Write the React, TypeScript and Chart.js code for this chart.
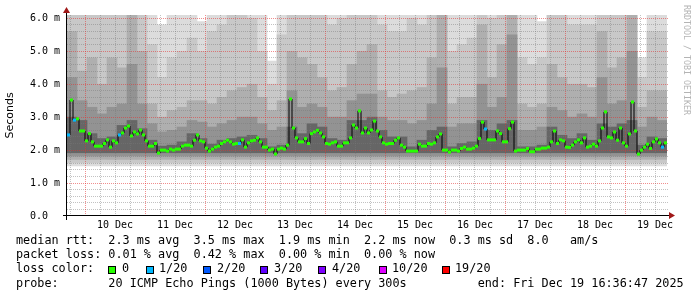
import React, { useEffect, useRef } from 'react';
import { Chart, registerables } from 'chart.js';

Chart.register(...registerables);

// ---------- data ----------
// x axis: hours since 10 Dec 00:00 (graph runs 9 Dec 16:48 -> 19 Dec 16:37)
const startHour = -7.2;
const endHour = 232.8;
const dayLabels = ['10 Dec', '11 Dec', '12 Dec', '13 Dec', '14 Dec', '15 Dec', '16 Dec', '17 Dec', '18 Dec', '19 Dec'];
const dayNoonHours = [12, 36, 60, 84, 108, 132, 156, 180, 204, 228];

const yTickValues = [0, 1, 2, 3, 4, 5, 6];
const yTickLabels = ['0.0', '1.0 m', '2.0 m', '3.0 m', '4.0 m', '5.0 m', '6.0 m'];

// median RTT (ms), 200 consolidated steps
const medianRtt = [
  2.46, 3.52, 2.91, 2.95, 2.58, 2.58, 2.28, 2.5, 2.25, 2.12,
  2.12, 2.12, 2.2, 2.31, 2.09, 2.28, 2.22, 2.46, 2.52, 2.67,
  2.73, 2.43, 2.55, 2.49, 2.61, 2.46, 2.28, 2.12, 2.12, 2.2,
  1.91, 2.0, 2.0, 1.97, 2.03, 2.0, 2.03, 2.03, 2.12, 2.15,
  2.15, 2.12, 2.3, 2.46, 2.28, 2.25, 2.06, 1.97, 2.03, 2.09,
  2.12, 2.2, 2.25, 2.3, 2.25, 2.18, 2.2, 2.2, 2.31, 2.09,
  2.22, 2.28, 2.3, 2.37, 2.25, 2.09, 2.09, 2.0, 2.03, 1.88,
  2.03, 2.06, 2.03, 2.15, 3.55, 2.67, 2.37, 2.25, 2.25, 2.35,
  2.2, 2.5, 2.55, 2.6, 2.52, 2.4, 2.2, 2.18, 2.22, 2.25,
  2.12, 2.12, 2.22, 2.22, 2.37, 2.76, 2.67, 3.19, 2.52, 2.67,
  2.52, 2.61, 2.88, 2.58, 2.4, 2.22, 2.18, 2.2, 2.2, 2.3,
  2.37, 2.15, 2.09, 1.97, 1.97, 1.97, 1.97, 2.18, 2.12, 2.12,
  2.2, 2.18, 2.22, 2.4, 2.49, 2.0, 2.0, 1.94, 2.0, 2.0,
  1.97, 2.05, 2.09, 2.03, 2.03, 2.06, 2.12, 2.35, 2.85, 2.64,
  2.31, 2.31, 2.31, 2.58, 2.5, 2.25, 2.25, 2.65, 2.85, 1.97,
  2.0, 2.0, 2.0, 2.05, 1.95, 1.95, 2.03, 2.03, 2.06, 2.06,
  2.09, 2.25, 2.58, 2.2, 2.31, 2.28, 2.09, 2.08, 2.15, 2.25,
  2.31, 2.22, 2.37, 2.09, 2.12, 2.18, 2.12, 2.28, 2.67, 3.16,
  2.4, 2.37, 2.55, 2.3, 2.67, 2.22, 2.12, 2.49, 3.46, 2.58,
  1.88, 2.0, 2.09, 2.18, 2.05, 2.25, 2.34, 2.22, 2.09, 2.22,
];

// lost pings (of 20) per step
const lossCount = [
  1, 0, 1, 0, 0, 0, 0, 0, 0, 0, 0, 0, 0, 0, 0, 0, 0, 1, 0, 0,
  0, 0, 0, 0, 0, 0, 0, 0, 0, 0, 0, 0, 0, 0, 0, 0, 0, 0, 0, 0,
  0, 0, 0, 0, 0, 0, 0, 0, 0, 0, 0, 0, 0, 0, 0, 0, 0, 1, 0, 0,
  0, 0, 0, 0, 0, 0, 0, 0, 0, 0, 0, 0, 0, 0, 0, 0, 0, 0, 0, 0,
  0, 0, 0, 0, 0, 0, 0, 0, 0, 0, 0, 0, 0, 0, 0, 0, 0, 0, 0, 0,
  0, 0, 0, 0, 0, 0, 0, 0, 0, 0, 0, 0, 0, 0, 0, 0, 0, 0, 0, 0,
  0, 0, 0, 0, 0, 0, 0, 0, 0, 0, 0, 0, 0, 0, 0, 0, 0, 0, 0, 1,
  0, 0, 0, 0, 0, 0, 0, 0, 0, 0, 0, 0, 0, 0, 0, 0, 0, 0, 0, 0,
  0, 0, 0, 0, 0, 0, 0, 0, 0, 0, 0, 0, 0, 0, 0, 0, 0, 0, 0, 0,
  0, 0, 0, 0, 0, 0, 0, 0, 0, 0, 0, 0, 0, 0, 0, 0, 0, 0, 1, 0,
];

// smoke: 60 segments, upper edge of each band (ms), outer (light) to inner (dark)
const smokeHi1 = [
  6.1, 6.1, 6.1, 6.1, 6.1, 6.1, 6.1, 6.1, 6.1, 5.8,
  6.1, 6.1, 6.1, 5.9, 6.1, 6.1, 6.1, 6.1, 6.1, 6.1,
  4.7, 6.1, 6.1, 6.1, 6.1, 6.1, 6.1, 6.1, 6.1, 6.1,
  6.1, 6.1, 6.1, 6.1, 6.1, 6.1, 6.1, 6.1, 6.1, 6.1,
  6.1, 6.1, 6.1, 6.1, 6.1, 6.1, 6.1, 5.9, 6.1, 6.1,
  6.1, 6.1, 6.1, 6.1, 6.1, 6.1, 6.1, 4.8, 6.1, 6.1,
];
const smokeHi2 = [
  6.1, 6.1, 6.1, 6.1, 6.1, 6.1, 6.1, 6.1, 5.2, 4.2,
  4.8, 5.0, 5.4, 5.0, 5.6, 5.8, 6.1, 6.1, 6.0, 5.0,
  4.0, 5.5, 6.1, 6.1, 6.1, 6.1, 5.8, 6.0, 6.1, 6.1,
  6.1, 5.8, 5.6, 5.6, 6.0, 5.8, 6.1, 6.1, 5.0, 5.2,
  5.4, 6.1, 6.0, 6.1, 6.1, 4.8, 4.6, 4.8, 6.1, 6.1,
  5.8, 5.8, 5.8, 6.1, 6.1, 6.1, 6.1, 4.2, 5.6, 5.6,
];
const smokeHi3 = [
  5.6, 4.4, 4.8, 4.0, 4.8, 4.5, 6.1, 5.0, 3.4, 3.0,
  3.2, 3.3, 3.5, 3.5, 3.4, 3.6, 3.8, 3.9, 4.0, 3.6,
  3.2, 3.5, 5.0, 4.8, 4.6, 4.2, 3.8, 3.9, 4.6, 5.0,
  5.2, 3.8, 3.6, 3.7, 3.8, 3.9, 4.8, 6.1, 3.4, 3.6,
  3.6, 5.8, 4.2, 5.2, 6.1, 3.4, 3.3, 3.4, 4.6, 4.2,
  4.0, 4.0, 3.9, 5.6, 4.5, 4.8, 6.1, 3.3, 3.8, 3.8,
];
const smokeHi4 = [
  4.2, 3.5, 3.3, 3.1, 3.3, 3.4, 4.6, 3.4, 2.8, 2.55,
  2.6, 2.7, 2.9, 2.85, 2.7, 2.8, 2.9, 3.0, 3.0, 2.8,
  2.6, 2.7, 3.8, 3.3, 3.4, 3.3, 3.0, 3.0, 3.5, 3.7,
  3.7, 3.0, 2.9, 2.9, 2.8, 2.9, 3.4, 4.5, 2.7, 2.8,
  2.8, 4.0, 3.3, 3.6, 5.5, 2.6, 2.6, 2.7, 3.3, 3.2,
  3.0, 3.1, 3.0, 4.2, 3.4, 3.5, 5.0, 2.7, 3.0, 2.9,
];
const smokeHi5 = [
  3.0, 2.9, 2.5, 2.35, 2.4, 2.75, 2.9, 2.65, 2.3, 2.12,
  2.15, 2.25, 2.5, 2.35, 2.18, 2.3, 2.35, 2.4, 2.45, 2.35,
  2.1, 2.15, 2.7, 2.5, 2.8, 2.7, 2.35, 2.3, 2.9, 2.9,
  3.0, 2.6, 2.4, 2.4, 2.1, 2.3, 2.6, 2.7, 2.1, 2.2,
  2.25, 2.9, 2.6, 2.8, 2.9, 2.1, 2.1, 2.15, 2.7, 2.45,
  2.35, 2.5, 2.3, 2.8, 2.7, 2.8, 2.9, 2.15, 2.4, 2.35,
];
// lower edge of each band (ms)
const smokeLow = [1.52, 1.62, 1.72, 1.82, 1.92];
const smokeColors = ['#dcdcdc', '#c8c8c8', '#afafaf', '#939393', '#666666'];

// loss colour legend
const lossThresholds = [0, 1, 2, 3, 4, 10, 19];
const lossLabels = ['0', '1/20', '2/20', '3/20', '4/20', '10/20', '19/20'];
const lossColors = ['#26ff00', '#00b8ff', '#0059ff', '#5e00ff', '#7e00ff', '#dd00ff', '#ff0000'];

const medianStats = ['2.3 ms avg', '3.5 ms max', '1.9 ms min', '2.2 ms now', '0.3 ms sd', '8.0   am/s'];
const lossStats = ['0.01 % avg', '0.42 % max', '0.00 % min', '0.00 % now'];
const probeText = '20 ICMP Echo Pings (1000 Bytes) every 300s';
const endText = 'end: Fri Dec 19 16:36:47 2025';

const MONO = '"DejaVu Sans Mono", monospace';

function lossColor(n: number): string {
  let c = lossColors[0];
  for (let i = 0; i < lossThresholds.length; i++) if (n >= lossThresholds[i]) c = lossColors[i];
  return c;
}

const rrdPlugin = {
  id: 'rrdLook',
  afterDatasetDraw(chart: any, args: any) {
    if (args.index !== smokeColors.length - 1) return;
    const { ctx, chartArea: a, scales } = chart;
    ctx.save();
    ctx.lineWidth = 1;
    ctx.setLineDash([1, 1]);
    // horizontal grid every 0.2 ms, major every 1 ms
    for (let i = 1; i <= 30; i++) {
      const y = Math.floor(scales.y.getPixelForValue(i / 5)) + 0.5;
      ctx.strokeStyle = i % 5 === 0 ? 'rgba(230,50,50,0.55)' : 'rgba(120,120,120,0.45)';
      ctx.beginPath();
      ctx.moveTo(a.left, y);
      ctx.lineTo(a.right + 2, y);
      ctx.stroke();
    }
    // vertical grid every 6 h, major at midnight
    for (let h = -6; h <= endHour; h += 6) {
      const x = Math.floor(scales.x.getPixelForValue(h)) + 0.5;
      ctx.strokeStyle = h % 24 === 0 ? 'rgba(230,50,50,0.55)' : 'rgba(120,120,120,0.45)';
      ctx.beginPath();
      ctx.moveTo(x, a.top);
      ctx.lineTo(x, a.bottom);
      ctx.stroke();
    }
    ctx.restore();
  },
  afterDraw(chart: any) {
    const { ctx, chartArea: a } = chart;
    ctx.save();
    ctx.strokeStyle = '#000';
    ctx.lineWidth = 1;
    const yb = Math.round(a.bottom) - 0.5;
    const xl = Math.round(a.left) - 0.5;
    ctx.beginPath();
    ctx.moveTo(a.left - 4, yb);
    ctx.lineTo(a.right + 3, yb);
    ctx.moveTo(xl, a.top - 5);
    ctx.lineTo(xl, a.bottom + 4);
    ctx.stroke();
    ctx.fillStyle = '#a01818';
    ctx.beginPath();
    ctx.moveTo(xl, a.top - 8);
    ctx.lineTo(xl - 3.5, a.top - 2);
    ctx.lineTo(xl + 3.5, a.top - 2);
    ctx.closePath();
    ctx.fill();
    ctx.beginPath();
    ctx.moveTo(a.right + 8, yb);
    ctx.lineTo(a.right + 2, yb - 3.5);
    ctx.lineTo(a.right + 2, yb + 3.5);
    ctx.closePath();
    ctx.fill();
    ctx.restore();
  },
};

export default function App() {
  const ref = useRef<HTMLCanvasElement | null>(null);

  useEffect(() => {
    if (!ref.current) return;
    const his = [smokeHi1, smokeHi2, smokeHi3, smokeHi4, smokeHi5];
    const segLabels = smokeHi1.map((_, i) => String(i));
    const binLabels = medianRtt.map((_, i) => String(i));
    const smokeSets = his.map((hi, L) => ({
      type: 'bar',
      xAxisID: 'xs',
      yAxisID: 'y',
      data: hi.map((h) => [smokeLow[L], h]),
      backgroundColor: smokeColors[L],
      borderWidth: 0,
      barPercentage: 1,
      categoryPercentage: 1,
      grouped: false,
      order: 10 - L,
    }));
    const chart = new Chart(ref.current, {
      type: 'bar',
      data: {
        datasets: [
          ...smokeSets,
          {
            type: 'line',
            xAxisID: 'xm',
            yAxisID: 'y',
            data: medianRtt,
            stepped: 'middle',
            borderColor: '#000',
            borderWidth: 1,
            pointRadius: 0,
            fill: false,
            order: 1,
          },
          {
            type: 'line',
            xAxisID: 'xm',
            yAxisID: 'y',
            data: medianRtt,
            showLine: false,
            pointStyle: 'rect',
            pointRadius: 2.13,
            pointBorderWidth: 0,
            pointBackgroundColor: lossCount.map(lossColor),
            order: 0,
          },
        ] as any,
      },
      options: {
        animation: false,
        responsive: false,
        events: [],
        layout: { padding: { left: 0, top: 15, right: 30, bottom: 4 } },
        plugins: { legend: { display: false }, tooltip: { enabled: false } },
        scales: {
          x: {
            type: 'linear',
            position: 'bottom',
            min: startHour,
            max: endHour,
            bounds: 'data',
            offset: false,
            grid: { display: false, drawTicks: false, offset: false },
            border: { display: false },
            afterBuildTicks: (s: any) => {
              s.ticks = dayNoonHours.map((v) => ({ value: v }));
            },
            afterFit: (s: any) => {
              s.height = 20;
            },
            ticks: {
              autoSkip: false,
              maxRotation: 0,
              minRotation: 0,
              padding: 3,
              color: '#000',
              font: { family: MONO, size: 10 },
              callback: (v: any) => {
                const i = dayNoonHours.indexOf(Number(v));
                return i >= 0 ? dayLabels[i] : '';
              },
            },
          },
          xs: { type: 'category', labels: segLabels, display: false, offset: true, grid: { offset: true } },
          xm: { type: 'category', labels: binLabels, display: false, offset: true, grid: { offset: true } },
          y: {
            type: 'linear',
            position: 'left',
            min: 0,
            max: 6.1,
            bounds: 'data',
            grid: { display: false, drawTicks: false },
            border: { display: false },
            afterBuildTicks: (s: any) => {
              s.ticks = yTickValues.map((v) => ({ value: v }));
            },
            afterFit: (s: any) => {
              s.width = 67;
            },
            ticks: {
              autoSkip: false,
              crossAlign: 'near',
              padding: 7,
              color: '#000',
              font: { family: MONO, size: 10 },
              callback: (v: any) => {
                const i = yTickValues.indexOf(Number(v));
                return i >= 0 ? yTickLabels[i].padEnd(5, ' ') : '';
              },
            },
            title: {
              display: true,
              text: 'Seconds',
              color: '#000',
              font: { family: '"DejaVu Sans", sans-serif', size: 11 },
              padding: { top: 4, bottom: 0 },
            },
          },
        },
      } as any,
      plugins: [rrdPlugin],
    });
    return () => chart.destroy();
  }, []);

  const textStyle: React.CSSProperties = {
    position: 'absolute',
    fontFamily: MONO,
    fontSize: '11.8px',
    lineHeight: '14px',
    whiteSpace: 'pre',
    color: '#000',
  };
  const sqX = [108, 146, 203, 260, 318, 379, 442];
  const lbX = [122, 159, 217, 274, 332, 392, 455];

  return (
    <div style={{ position: 'fixed', left: 0, top: 0, width: 697, height: 297, background: '#fff', overflow: 'hidden' }}>
      <canvas ref={ref} width={697} height={240} style={{ position: 'absolute', left: 0, top: 0 }} />
      <div
        style={{
          position: 'absolute',
          left: 682,
          top: 5,
          writingMode: 'vertical-rl',
          fontFamily: MONO,
          fontSize: '8.3px',
          lineHeight: '10px',
          color: '#b4b4b4',
          whiteSpace: 'pre',
        }}
      >
        RRDTOOL / TOBI OETIKER
      </div>
      <div style={{ ...textStyle, left: 16, top: 233 }}>{'median rtt:  ' + medianStats.join('  ')}</div>
      <div style={{ ...textStyle, left: 16, top: 247.2 }}>{'packet loss: ' + lossStats.join('  ')}</div>
      <div style={{ ...textStyle, left: 16, top: 261.4 }}>{'loss color:'}</div>
      {lossLabels.map((l, i) => (
        <React.Fragment key={l}>
          <span
            style={{
              position: 'absolute',
              left: sqX[i],
              top: 266,
              width: 6,
              height: 6,
              border: '1px solid #000',
              background: lossColors[i],
            }}
          />
          <span style={{ ...textStyle, left: lbX[i], top: 261.4 }}>{l}</span>
        </React.Fragment>
      ))}
      <div style={{ ...textStyle, left: 16, top: 275.6 }}>{'probe:       ' + probeText + '          ' + endText}</div>
    </div>
  );
}
